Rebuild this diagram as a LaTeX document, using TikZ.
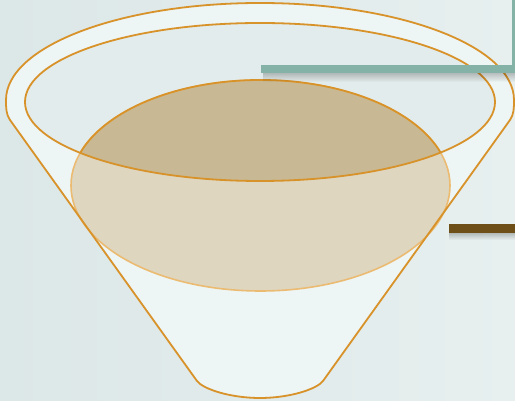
\documentclass[tikz,border=0pt]{standalone}
\usetikzlibrary{fadings}
\definecolor{bgA}{HTML}{DCE7E7}
\definecolor{bgB}{HTML}{E7EFEF}
\definecolor{conefill}{HTML}{EEF5F5}
\definecolor{rim}{HTML}{D8922A}
\definecolor{rimlight}{HTML}{EBBB72}
\definecolor{tanlight}{HTML}{DFD6C0}
\definecolor{tandark}{HTML}{C8B994}
\definecolor{tealbar}{HTML}{84B2A6}
\definecolor{brownbar}{HTML}{6E4F17}
\definecolor{innerbg}{HTML}{E3ECEC}
\begin{document}
\begin{tikzpicture}[x=1pt,y=1pt,line join=round,
  rimline/.style={draw=rim,line width=1.8pt}]
\useasboundingbox (0,0) rectangle (515,401);
\shade[left color=bgA,right color=bgB] (0,0) rectangle (515,401);
% cone body
\def\conepath{(10,281) .. controls (6,287) and (6,293) .. (6,301)
  arc[start angle=180,end angle=0,x radius=254pt,y radius=97pt]
  .. controls (514,293) and (514,287) .. (510,281)
  -- (323,20) .. controls (317,12) and (290,3) .. (260,3)
  .. controls (230,3) and (203,12) .. (197,20) -- cycle}
\fill[conefill] \conepath;
% inner rim
\fill[innerbg] (260,299) ellipse[x radius=235pt,y radius=79pt];
% liquid surface
\fill[tanlight] (260.5,215.5) ellipse[x radius=189.5pt,y radius=105.5pt];
\begin{scope}
  \clip (260,299) ellipse[x radius=235pt,y radius=79pt];
  \fill[tandark] (260.5,215.5) ellipse[x radius=189.5pt,y radius=105.5pt];
\end{scope}
\draw[rimlight,line width=1.6pt] (260.5,215.5) ellipse[x radius=189.5pt,y radius=105.5pt];
\begin{scope}
  \clip (260,299) ellipse[x radius=235pt,y radius=79pt];
  \draw[rim,line width=1.8pt] (260.5,215.5) ellipse[x radius=189.5pt,y radius=105.5pt];
\end{scope}
% outlines
\draw[rimline] \conepath;
\draw[rimline] (260,299) ellipse[x radius=235pt,y radius=79pt];
% teal bar with shadow
\fill[black,opacity=0.22,path fading=south] (263,319) rectangle (515,328);
\fill[tealbar] (261,328) rectangle (515,336);
\fill[tealbar] (512,336) rectangle (515,401);
% brown bar with shadow
\fill[black,opacity=0.22,path fading=south] (449,161) rectangle (515,168);
\fill[brownbar] (449,168) rectangle (515,177);
\end{tikzpicture}
\end{document}
